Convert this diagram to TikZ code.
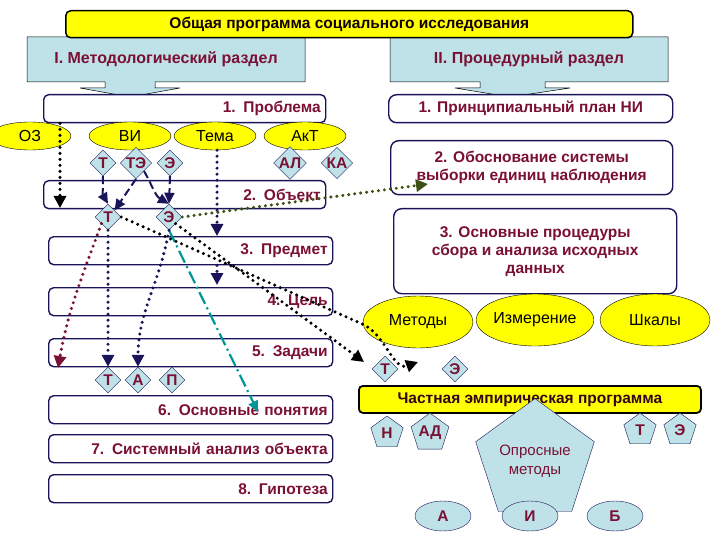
\documentclass[tikz,border=0pt]{standalone}
\usepackage{fontspec}
\setmainfont{Liberation Sans}
\usetikzlibrary{shapes.geometric,arrows.meta}
\definecolor{mar}{RGB}{122,16,52}
\definecolor{nav}{RGB}{25,20,90}
\definecolor{lb}{RGB}{190,226,232}
\definecolor{yel}{RGB}{255,255,0}
\definecolor{teal2}{RGB}{0,150,150}
\definecolor{olive2}{RGB}{60,80,20}
\tikzset{
 txt/.style={font=\bfseries\fontsize{15.5}{18}\selectfont, text=mar},
 lbox/.style={draw=nav, line width=1.4pt, rounded corners=5pt, fill=white, txt, minimum height=28pt, inner sep=5pt, align=right, anchor=north west},
 rbox/.style={draw=nav, line width=1.4pt, rounded corners=8pt, fill=white, txt, inner sep=4pt, align=center, anchor=north west},
 yell/.style={draw=black, fill=yel, ellipse, minimum width=82pt, minimum height=28pt, inner sep=0pt, font=\fontsize{16}{18}\selectfont},
 dia/.style={draw=nav, fill=lb, diamond, aspect=1, minimum size=26pt, inner sep=0pt, txt},
 pent/.style={draw=nav, fill=lb, regular polygon, regular polygon sides=5, minimum size=34pt, inner sep=0pt, txt},
 bel/.style={draw=nav, fill=lb, ellipse, minimum width=56pt, minimum height=30pt, inner sep=0pt, txt},
 dotnav/.style={nav, line width=3.4pt, dash pattern=on 0pt off 6pt, line cap=round, -{Triangle[length=12pt,width=12pt]}},
 dotblk/.style={black, line width=3.4pt, dash pattern=on 0pt off 6pt, line cap=round, -{Triangle[length=12pt,width=12pt]}},
 dashnav/.style={nav, line width=2pt, dash pattern=on 8pt off 4pt, -{Triangle[length=11pt,width=10pt]}},
}
\begin{document}
\begin{tikzpicture}[x=1pt,y=-1pt]
\useasboundingbox (0,0) rectangle (720,540);
% callouts
\draw[fill=lb, draw=black, line width=0.5pt] (27,37) -- (305,37) -- (305,82) -- (155,82) -- (155,88) -- (180,88) -- (130,97) -- (80,88) -- (105,88) -- (105,82) -- (27,82) -- cycle;
\node[txt, font=\bfseries\fontsize{16}{18}\selectfont] (cI) at (166,59) {I. Методологический раздел};
\draw[fill=lb, draw=black, line width=0.5pt] (390,37) -- (668,37) -- (668,82) -- (545,82) -- (545,88) -- (570,88) -- (510,97) -- (455,88) -- (480,88) -- (480,82) -- (390,82) -- cycle;
\node[txt, font=\bfseries\fontsize{16}{18}\selectfont] (cII) at (529,59) {II. Процедурный раздел};
\node[draw=black, line width=1.5pt, fill=yel, rounded corners=5pt, minimum width=567pt, minimum height=27pt, anchor=north west, font=\bfseries\fontsize{15.5}{18}\selectfont, text=black!85!mar] (title) at (65,10) {Общая программа социального исследования};
% left boxes
\node[lbox, text width=272pt] (b1) at (43,94) {1. Проблема};
\node[lbox, text width=272pt] (b2) at (43,180) {2. Объект};
\node[lbox, text width=274pt] (b3) at (48,236) {3. Предмет};
\node[lbox, text width=274pt] (b4) at (48,287) {4. Цель};
\node[lbox, text width=274pt] (b5) at (48,338) {5. Задачи};
\node[lbox, text width=274pt] (b6) at (48,395) {6. Основные понятия};
\node[lbox, text width=274pt] (b7) at (48,434) {7. Системный анализ объекта};
\node[lbox, text width=274pt] (b8) at (48,474) {8. Гипотеза};
% ellipses
\node[yell] (oz) at (30,136) {ОЗ};
\node[yell] (vi) at (130,136) {ВИ};
\node[yell] (tema) at (215,136) {Тема};
\node[yell] (akt) at (305,136) {АкТ};
% diamonds
\node[dia] (d1) at (103,163) {Т};
\node[dia] (d2) at (136,163) {ТЭ};
\node[dia] (d3) at (170,163) {Э};
\node[dia] (d4) at (290,163) {АЛ};
\node[dia] (d5) at (337,163) {КА};
\node[dia] (t2) at (108,217) {Т};
\node[dia] (e2) at (169,217) {Э};
\node[dia] (t3) at (108,380) {Т};
\node[dia] (a3) at (138,380) {А};
\node[dia] (p3) at (172,380) {П};
% right boxes
\node[rbox, minimum width=284pt, minimum height=28pt] (r1) at (388,94) {1. Принципиальный план НИ};
\node[rbox, minimum width=282pt, minimum height=54pt] (r2) at (390,140) {2. Обоснование системы\\выборки единиц наблюдения};
\node[rbox, minimum width=283pt, minimum height=85pt] (r3) at (393,208) {3. Основные процедуры\\сбора и анализа исходных\\данных};
\node[yell, minimum width=110pt, minimum height=52pt] (met) at (418,322) {Методы};
\node[yell, minimum width=112pt, minimum height=52pt] (izm) at (535,320) {Измерение};
\node[yell, minimum width=110pt, minimum height=52pt] (shk) at (655,320) {Шкалы};
\node[dia] (rt) at (385,369) {Т};
\node[dia] (re) at (455,369) {Э};
\node[draw=black, line width=1.8pt, fill=yel, rounded corners=4pt, minimum width=342pt, minimum height=27pt, anchor=north west, txt, text=black!60!mar] (chep) at (358,385) {Частная эмпирическая программа};
\node[pent] (pn) at (387,433) {Н};
\node[pent] (pad) at (430,433) {АД};
\node[pent] (pt) at (640,430) {Т};
\node[pent] (pe) at (680,430) {Э};
\node[pent, minimum size=96pt, align=center, font=\fontsize{15}{19}\selectfont] (opr) at (535,461) {Опросные\\методы};
\node[bel] (ea) at (443,516) {А};
\node[bel] (ei) at (530,516) {И};
\node[bel] (eb) at (615,516) {Б};
% connectors
\coordinate (ozend) at (60,208);
\draw[dotblk] (b1.south west -| ozend) -- (ozend);
\draw[dashnav] (d1.south) to[out=-90,in=120] (t2.north);
\draw[dashnav] (d2.south) -- (t2.north east);
\draw[dashnav] (d2.south east) to[out=-60,in=150] (e2.north);
\draw[dashnav] (d3.south) -- (e2.north);
\coordinate (tm1) at (217,236);
\coordinate (tm2) at (217,285);
\draw[dotnav] (tema.south -| tm1) -- (tm1);
\draw[dotnav] (b3.south -| tm2) -- (tm2);
\draw[teal2, line width=2.2pt, dash pattern=on 13pt off 4pt on 2pt off 4pt, -{Triangle[length=11pt,width=10pt]}] (e2.south) -- (258,412);
\draw[dotnav] (t2.south) -- (t3.north);
\draw[dotnav] (e2.south) to[out=-100,in=90] (a3.north);
\coordinate (mend) at (58,368);
\draw[mar, line width=3.4pt, dash pattern=on 0pt off 6pt, line cap=round, -{Triangle[length=12pt,width=12pt]}] (t2.south west) to[out=-110,in=80] (mend);
\draw[dotblk] (t2.east) -- (360,323) to[out=-20,in=200] (418,362);
\draw[dotblk] (e2.south east) -- (364,362);
\draw[olive2, line width=3.4pt, dash pattern=on 0pt off 6pt, line cap=round, -{Triangle[length=12pt,width=12pt]}] (e2.east) -- (428,184);
\end{tikzpicture}
\end{document}
